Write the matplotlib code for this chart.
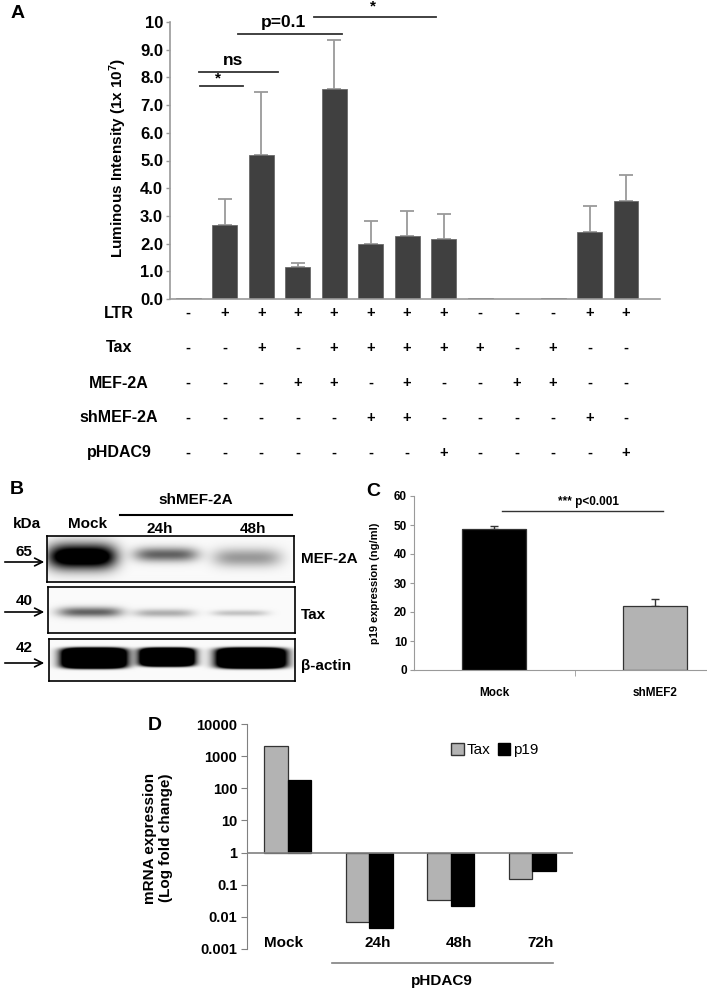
import numpy as np
import matplotlib
matplotlib.use('Agg')
import matplotlib.pyplot as plt
from matplotlib.transforms import blended_transform_factory
from matplotlib.patches import Patch

plt.rcParams['font.family'] = ['Liberation Sans', 'DejaVu Sans']
plt.rcParams['font.weight'] = 'bold'
plt.rcParams['mathtext.fontset'] = 'custom'
plt.rcParams['mathtext.rm'] = 'Liberation Sans:bold'
plt.rcParams['mathtext.default'] = 'rm'

W, H = 707, 992
GREY = '#9a9a9a'

# ---- panel A: luciferase assay
A_VALUES = [0.02, 2.67, 5.21, 1.14, 7.59, 1.97, 2.27, 2.16, 0.02, 0.01, 0.03, 2.43, 3.55]
A_ERR = [0, 0.95, 2.26, 0.16, 1.77, 0.85, 0.91, 0.92, 0, 0, 0, 0.94, 0.94]
A_YTICKS = [0, 1, 2, 3, 4, 5, 6, 7, 8, 9, 10]
A_YLABELS = ['0.0', '1.0', '2.0', '3.0', '4.0', '5.0', '6.0', '7.0', '8.0', '9.0', '10']
TABLE_ROWS = ['LTR', 'Tax', 'MEF-2A', 'shMEF-2A', 'pHDAC9']
TABLE_SIGNS = ['-+++++++---++',
               '--+-+++++-+--',
               '---++-+--++--',
               '-----++----+-',
               '-------+----+']

# ---- panel B: western blot band intensities (Mock, 24h, 48h)
BLOT_LANES = ['Mock', '24h', '48h']
BLOT_ROWS = ['MEF-2A', 'Tax', 'β-actin']
BLOT_KDA = ['65', '40', '42']
BAND_MEF2A = [1.4, 0.6, 0.38]
BAND_TAX = [0.6, 0.3, 0.22]
BAND_ACTIN = [3.0, 3.0, 3.0]

# ---- panel C: p19 ELISA
C_LABELS = ['Mock', 'shMEF2']
C_VALUES = [48.5, 22.1]
C_ERR = [1.1, 2.3]

# ---- panel D: qPCR
D_LABELS = ['Mock', '24h', '48h', '72h']
D_TAX = [2000, 0.0069, 0.034, 0.155]
D_P19 = [180, 0.0046, 0.022, 0.26]
D_TICKS = [1e-3, 1e-2, 1e-1, 1, 10, 100, 1000, 10000]
D_TICKLABELS = ['0.001', '0.01', '0.1', '1', '10', '100', '1000', '10000']

fig = plt.figure(figsize=(W / 100, H / 100), dpi=100)


def px_axes(x0, y0, x1, y1):
    return fig.add_axes([x0 / W, 1 - y1 / H, (x1 - x0) / W, (y1 - y0) / H])


ov = fig.add_axes([0, 0, 1, 1])
ov.set_xlim(0, W)
ov.set_ylim(H, 0)
ov.axis('off')
ov.set_zorder(10)

# ================= A
axA = px_axes(170, 22, 660, 299)
x = np.arange(len(A_VALUES))
axA.bar(x, A_VALUES, 0.68, color='#404040', edgecolor='#6a6a6a', lw=0.6, zorder=2)
has_err = [i for i in x if A_ERR[i] > 0]
axA.errorbar(x[has_err], np.array(A_VALUES)[has_err],
             yerr=[np.zeros(len(has_err)), np.array(A_ERR)[has_err]],
             fmt='none', ecolor=GREY, elinewidth=1.3, capsize=5, capthick=1.3, zorder=1)
axA.set_xlim(-0.5, 12.93)
axA.set_ylim(0, 10)
axA.set_yticks(A_YTICKS)
axA.set_yticklabels(A_YLABELS)
axA.set_xticks([])
for s in ['top', 'right']:
    axA.spines[s].set_visible(False)
for s in ['left', 'bottom']:
    axA.spines[s].set_color(GREY)
    axA.spines[s].set_linewidth(1.2)
axA.tick_params(axis='y', direction='out', length=3, width=1, color=GREY, labelsize=12, pad=2)
ov.text(118, 158, 'Luminous Intensity (1x 10$^{7}$)', rotation=90, ha='center', va='center', fontsize=11)

# significance bars
sig = [(0.33, 1.5, 7.69, '*', 0.82, 7.95),
       (0.3, 2.47, 8.2, 'ns', 1.23, 8.6),
       (1.37, 4.22, 9.57, 'p=0.1', 2.6, 9.97),
       (3.45, 6.79, 10.18, '*', 5.07, 10.55)]
for x0, x1, yy, lab, tx, ty in sig:
    axA.plot([x0, x1], [yy, yy], color='#333333', lw=1.3, clip_on=False)
    axA.text(tx, ty, lab, ha='center', va='center', fontsize=12.5 if lab != '*' else 11, clip_on=False)

# condition table
trans = blended_transform_factory(axA.transData, ov.transData)
for name, signs, yy in zip(TABLE_ROWS, TABLE_SIGNS, [313, 348, 383, 418, 453]):
    ov.text(119, yy, name, ha='center', va='center', fontsize=11.5)
    for i, sgn in enumerate(signs):
        ov.text(i, yy, sgn, transform=trans, ha='center', va='center', fontsize=10.5)

# ================= B
def blot(ax, w, h, cx, hw, cy, sy, amps, py=2):
    yy, xx = np.mgrid[0:h:0.25, 0:w:0.25]
    img = np.full(xx.shape, 0.02)
    for c, a, b, s, amp in zip(cx, hw, cy, sy, amps):
        img += amp * np.exp(-np.abs((xx - c) / a) ** 4 - np.abs((yy - b) / s) ** py)
    ax.imshow(np.clip(img, 0, 1), cmap='gray_r', vmin=0, vmax=1, extent=(0, w, h, 0),
              aspect='auto', interpolation='bilinear')
    ax.set_xticks([])
    ax.set_yticks([])
    for s in ax.spines.values():
        s.set_linewidth(1.2)


b1 = px_axes(47, 536, 294, 582)
blot(b1, 247, 46, [35, 119, 200], [34, 32, 34], [21, 19, 22], [12, 7, 9], BAND_MEF2A)
b2 = px_axes(48, 587, 295, 633)
blot(b2, 247, 46, [42, 116, 192], [32, 30, 28], [25, 26, 26], [5, 4, 3], BAND_TAX)
b3 = px_axes(49, 639, 295, 681)
blot(b3, 246, 42, [45, 118, 202], [31, 26, 33], [19, 18, 19], [10, 9, 10], BAND_ACTIN, py=6)

ov.text(196, 500, 'shMEF-2A', ha='center', va='center', fontsize=11)
ov.plot([120, 292], [515, 515], color='black', lw=1.5)
ov.text(27, 524, 'kDa', ha='center', va='center', fontsize=11)
for lane, xx, yy in zip(BLOT_LANES, [88, 160, 253], [524, 529, 529]):
    ov.text(xx, yy, lane, ha='center', va='center', fontsize=11)
for kda, name, yk, ya, yn in zip(BLOT_KDA, BLOT_ROWS, [552, 601, 648], [562, 612, 663], [559, 615, 666]):
    ov.text(24, yk, kda, ha='center', va='center', fontsize=11)
    ov.annotate('', xy=(47, ya), xytext=(2, ya),
                arrowprops=dict(arrowstyle='->', color='black', lw=1.2, mutation_scale=14))
    ov.text(301, yn, name, ha='left', va='center', fontsize=11)

# ================= C
axC = px_axes(414, 496, 735, 670)
axC.bar([0, 1], C_VALUES, 0.4, color=['black', '#b3b3b3'], edgecolor='#333333', lw=0.9, zorder=2)
axC.errorbar([0, 1], C_VALUES, yerr=[[0, 0], C_ERR], fmt='none', ecolor='#333333',
             elinewidth=1, capsize=3, capthick=1, zorder=1)
axC.set_xlim(-0.5, 1.5)
axC.set_ylim(0, 60)
axC.set_yticks(range(0, 61, 10))
axC.set_xticks([0, 1])
axC.set_xticklabels(C_LABELS)
axC.set_xticks([0.5], minor=True)
for s in ['top', 'right']:
    axC.spines[s].set_visible(False)
for s in ['left', 'bottom']:
    axC.spines[s].set_color(GREY)
axC.tick_params(axis='y', direction='out', length=3, color=GREY, labelsize=8.5, pad=2)
axC.tick_params(axis='x', which='major', length=0, labelsize=8.5, pad=12)
axC.tick_params(axis='x', which='minor', direction='out', length=4, color=GREY)
axC.plot([0.05, 1.05], [55, 55], color='#333333', lw=1, clip_on=False)
axC.text(0.59, 57.8, '*** p<0.001', ha='center', va='center', fontsize=8.5)
ov.text(375, 583, 'p19 expression (ng/ml)', rotation=90, ha='center', va='center', fontsize=8)

# ================= D
axD = px_axes(247, 724, 573, 949)
xd = np.arange(len(D_LABELS))
axD.set_yscale('log')
axD.bar(xd - 0.145, np.array(D_TAX) - 1, 0.29, bottom=1, color='#b3b3b3', edgecolor='#333333', lw=0.9)
axD.bar(xd + 0.145, np.array(D_P19) - 1, 0.29, bottom=1, color='black', edgecolor='black', lw=0.9)
axD.axhline(1, color='#808080', lw=1.2)
axD.set_xlim(-0.5, 3.5)
axD.set_ylim(1e-3, 1e4)
axD.set_yticks(D_TICKS)
axD.set_yticklabels(D_TICKLABELS)
axD.minorticks_off()
axD.set_xticks([])
for s in ['top', 'right', 'bottom']:
    axD.spines[s].set_visible(False)
axD.spines['left'].set_color('#808080')
axD.tick_params(axis='y', direction='out', length=4, color='#808080', labelsize=10.5, pad=3)
transD = blended_transform_factory(axD.transData, axD.transAxes)
for i, lab in enumerate(D_LABELS):
    axD.text(i - 0.05 if i == 0 else i + 0.1, 0.027, lab, transform=transD, ha='center', va='center', fontsize=11)
ov.plot([332, 553], [963, 963], color='#808080', lw=1.2)
ov.text(442, 981, 'pHDAC9', ha='center', va='center', fontsize=11)
ov.text(158, 838, 'mRNA expression\n(Log fold change)', rotation=90, ha='center', va='center',
        fontsize=11, linespacing=1.1)
handles = [Patch(facecolor='#b3b3b3', edgecolor='#333333', label='Tax'),
           Patch(facecolor='black', edgecolor='black', label='p19')]
ov.legend(handles=handles, loc='center', bbox_to_anchor=(495, 750), bbox_transform=ov.transData,
          ncol=2, frameon=False, handlelength=0.8, handleheight=0.8, handletextpad=0.2,
          columnspacing=0.5, prop={'size': 11, 'weight': 'normal'})

# panel letters
for lab, xx, yy in [('A', 18, 14), ('B', 17, 490), ('C', 373, 492), ('D', 155, 725)]:
    ov.text(xx, yy, lab, ha='center', va='center', fontsize=14)

fig.savefig('out.png', dpi=100)
